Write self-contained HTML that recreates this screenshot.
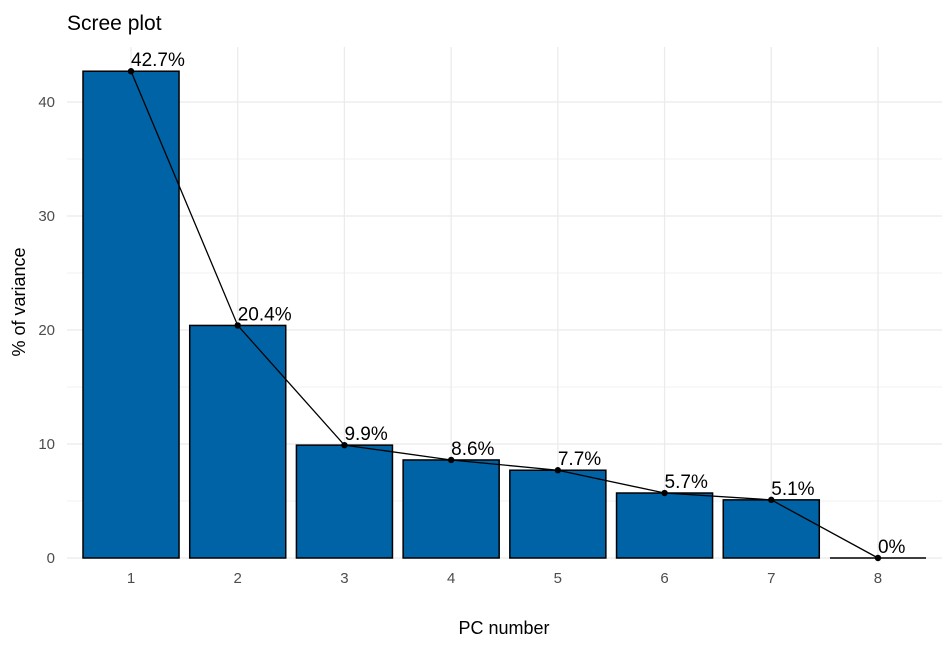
<!DOCTYPE html>
<html><head><meta charset="utf-8"><style>
body{margin:0;background:#fff;font-family:"Liberation Sans",Arial,sans-serif}
</style></head><body>
<svg id="chart" width="952" height="648" xmlns="http://www.w3.org/2000/svg" font-family="Liberation Sans, Arial, sans-serif">
<text x="67" y="30" font-size="21" fill="#000">Scree plot</text>
<g id="grid"></g><g id="bars"></g><g id="line"></g><g id="labels"></g><g id="ticks"></g>
<text x="504" y="634" font-size="18" text-anchor="middle" fill="#000">PC number</text>
<text transform="translate(25,302) rotate(-90)" font-size="18" text-anchor="middle" fill="#000">% of variance</text>
</svg>
<script>
const categories = ["1","2","3","4","5","6","7","8"];
const values = [42.7, 20.4, 9.9, 8.6, 7.7, 5.7, 5.1, 0];
const valueLabels = ["42.7%","20.4%","9.9%","8.6%","7.7%","5.7%","5.1%","0%"];
const yTicks = [0, 10, 20, 30, 40];
const yMinor = [5, 15, 25, 35];

const NS = "http://www.w3.org/2000/svg";
const padLeft = 67, padRight = 942, padTop = 47, baseY = 558;
const step = (padRight - padLeft) / (categories.length + 0.2);
const xs = i => padLeft + step * (0.6 + i);
const ys = v => baseY - v * 11.4;
function mk(tag, attrs, parent){const e=document.createElementNS(NS,tag);for(const k in attrs)e.setAttribute(k,attrs[k]);document.getElementById(parent).appendChild(e);return e;}
yMinor.forEach(v=>{const l=mk("line",{x1:padLeft,x2:padRight,y1:ys(v),y2:ys(v),stroke:"#f2f2f2","stroke-width":1},"grid");

});
yTicks.forEach(v=>{const l=mk("line",{x1:padLeft,x2:padRight,y1:ys(v),y2:ys(v),stroke:"#ebebeb","stroke-width":1.3},"grid");


const t=mk("text",{x:padLeft-12,y:ys(v)+5,"font-size":15,fill:"#4d4d4d","text-anchor":"end"},"ticks");t.textContent=v;

});
categories.forEach((c,i)=>{const l=mk("line",{x1:xs(i),x2:xs(i),y1:padTop,y2:baseY,stroke:"#ebebeb","stroke-width":1.3},"grid");


const t=mk("text",{x:xs(i),y:583,"font-size":15,fill:"#4d4d4d","text-anchor":"middle"},"ticks");t.textContent=c;


const bw=step*0.9;
const h=baseY-ys(values[i]);
let b;
if(h>0.5){b=mk("rect",{x:xs(i)-bw/2,y:ys(values[i]),width:bw,height:h,fill:"#0063a6",stroke:"#000","stroke-width":1.5},"bars");}
else{b=mk("line",{x1:xs(i)-bw/2,x2:xs(i)+bw/2,y1:baseY,y2:baseY,stroke:"#000","stroke-width":1.5},"bars");}


const p=mk("circle",{cx:xs(i),cy:ys(values[i]),r:3.2,fill:"#000"},"line");


const lt=mk("text",{x:xs(i),y:ys(values[i])-5,"font-size":19,fill:"#000"},"labels");lt.textContent=valueLabels[i];

});
const pl=mk("polyline",{points:values.map((v,i)=>xs(i)+","+ys(v)).join(" "),fill:"none",stroke:"#000","stroke-width":1.3},"line");


</script>
</body></html>
